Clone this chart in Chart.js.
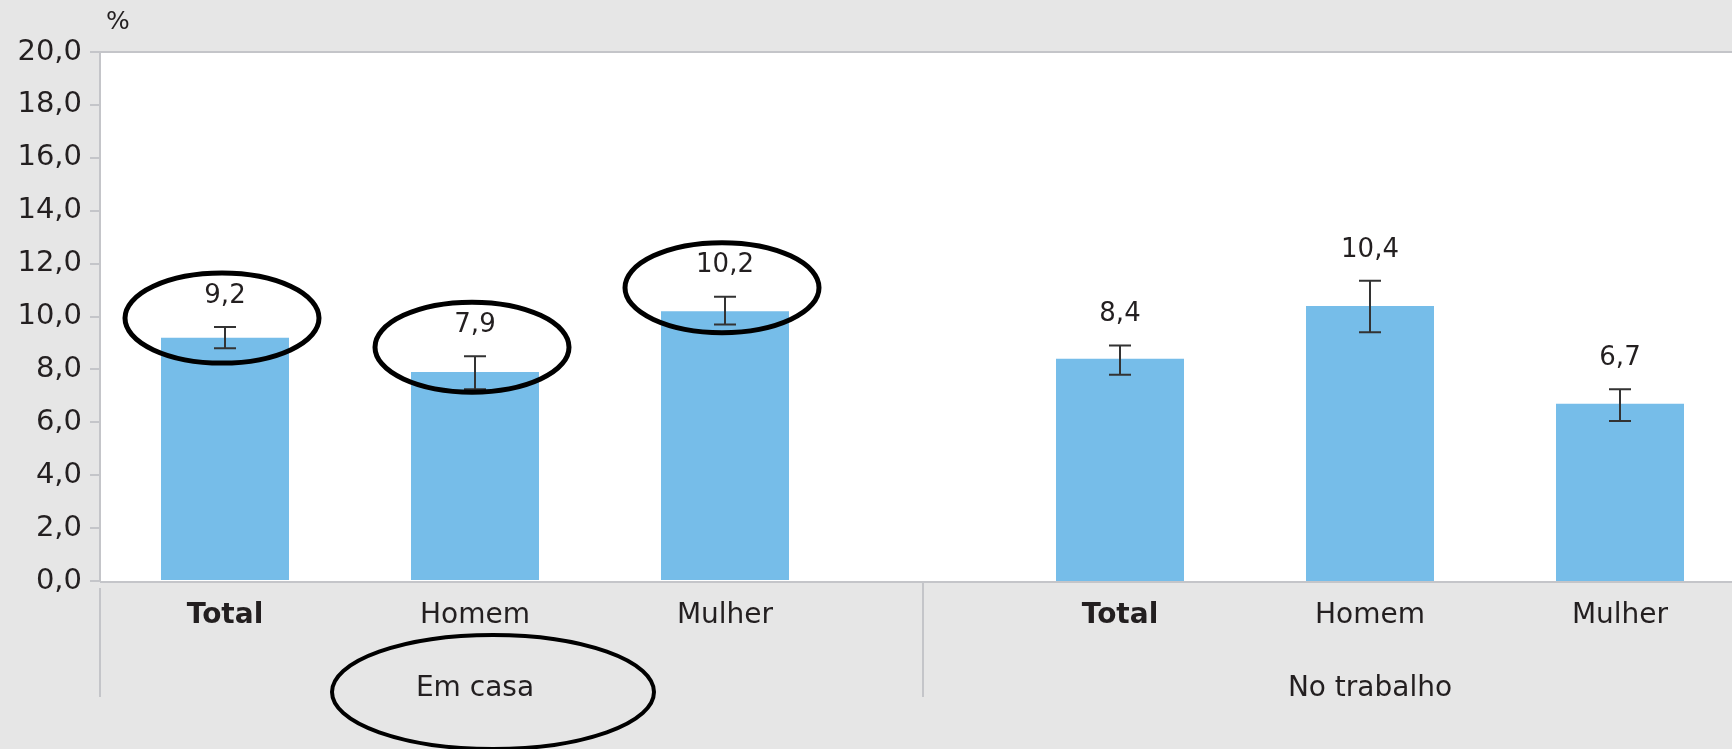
<!DOCTYPE html>
<html><head><meta charset="utf-8">
<script src="https://cdn.jsdelivr.net/npm/chart.js@4.4.1/dist/chart.umd.min.js"></script>
<style>
html,body{margin:0;padding:0;width:1732px;height:749px;overflow:hidden;background:#e6e6e6;}
#wrapL{position:absolute;left:0;top:0;width:922px;height:749px;}
#wrapR{position:absolute;left:922px;top:0;width:823px;height:749px;}
#pct{position:absolute;left:106px;top:6px;font:25px 'DejaVu Sans',sans-serif;color:#231f20;}
</style></head>
<body>
<div id="wrapL"><canvas id="cL"></canvas></div>
<div id="wrapR"><canvas id="cR"></canvas></div>
<div id="pct">%</div>
<script>
// ---- data ----
const groups = ['Em casa', 'No trabalho'];
const categories = ['Total', 'Homem', 'Mulher'];
const emCasa = [9.2, 7.9, 10.2];
const emCasaLow = [8.8, 7.25, 9.7];
const emCasaHigh = [9.6, 8.5, 10.75];
const noTrabalho = [8.4, 10.4, 6.7];
const noTrabalhoLow = [7.8, 9.4, 6.05];
const noTrabalhoHigh = [8.9, 11.35, 7.25];
const yMin = 0, yMax = 20, yStep = 2;
// hand-drawn highlight circles in the reference
const circledEmCasa = [true, true, true];
const circledNoTrabalho = [false, false, false];
const circledGroups = [true, false];

// ---- style ----
const FONT = "'DejaVu Sans', sans-serif";
const INK = '#231f20';
const AXIS = '#c4c5c9';
const BAR = '#76bde9';

function fmt(v) { return v.toFixed(1).replace('.', ','); }
function ring(ctx, cx, cy, rx, ry, lw) {
  ctx.save();
  ctx.strokeStyle = '#000';
  ctx.lineWidth = lw;
  ctx.beginPath();
  ctx.ellipse(cx, cy, rx, ry, 0, 0, Math.PI * 2);
  ctx.stroke();
  ctx.restore();
}

const panelPlugin = {
  id: 'panel',
  beforeDraw(chart, args, o) {
    const { ctx, chartArea: a, width } = chart;
    const x0 = o.isFirst ? a.left : 0;
    ctx.save();
    ctx.fillStyle = '#fff';
    ctx.fillRect(x0, a.top, width - x0, a.bottom - a.top);
    ctx.strokeStyle = AXIS;
    ctx.lineWidth = 2;
    ctx.beginPath();
    ctx.moveTo(x0, a.top); ctx.lineTo(width, a.top);
    ctx.moveTo(x0, a.bottom + 1); ctx.lineTo(width, a.bottom + 1);
    ctx.stroke();
    ctx.beginPath();
    const sx = o.isFirst ? a.left : 1;
    ctx.moveTo(sx, a.bottom + (o.isFirst ? 7 : 1));
    ctx.lineTo(sx, a.bottom + 116);
    ctx.stroke();
    ctx.restore();
  },
  afterDatasetsDraw(chart, args, o) {
    const { ctx, chartArea: a } = chart;
    const y = chart.scales.y, x = chart.scales.x;
    const ds = chart.data.datasets[0];
    const meta = chart.getDatasetMeta(0);
    ctx.save();
    meta.data.forEach((bar, i) => {
      const hi = y.getPixelForValue(o.high[i]);
      const lo = y.getPixelForValue(o.low[i]);
      ctx.strokeStyle = '#333';
      ctx.lineWidth = 2;
      ctx.beginPath();
      ctx.moveTo(bar.x, hi); ctx.lineTo(bar.x, lo);
      ctx.moveTo(bar.x - 11, hi); ctx.lineTo(bar.x + 11, hi);
      ctx.moveTo(bar.x - 11, lo); ctx.lineTo(bar.x + 11, lo);
      ctx.stroke();
      const ly = hi - 31;
      ctx.fillStyle = INK;
      ctx.font = '26px ' + FONT;
      ctx.textAlign = 'center';
      ctx.textBaseline = 'middle';
      ctx.fillText(fmt(ds.data[i]), bar.x, ly);
      if (o.circled[i]) ring(ctx, bar.x - 3, ly + 22, 97, 45, 5);
    });
    const gx = x.getPixelForValue(1);
    const gy = a.bottom + 108;
    ctx.fillStyle = INK;
    ctx.font = '28px ' + FONT;
    ctx.textAlign = 'center';
    ctx.textBaseline = 'middle';
    ctx.fillText(o.group, gx, gy);
    if (o.groupCircled) ring(ctx, gx + 18, gy + 3, 161, 57, 4);
    ctx.restore();
  }
};

function makePanel(id, groupIdx, values, low, high, circled, isFirst) {
  return new Chart(document.getElementById(id), {
    type: 'bar',
    data: {
      labels: categories,
      datasets: [{ data: values, backgroundColor: BAR, borderWidth: 0,
                   barPercentage: 0.512, categoryPercentage: 1 }]
    },
    options: {
      responsive: true,
      maintainAspectRatio: false,
      animation: false,
      layout: { padding: isFirst ? { top: 52, right: 72, left: 0, bottom: 0 }
                                 : { top: 52, right: 0, left: 73, bottom: 0 } },
      plugins: {
        legend: { display: false },
        tooltip: { enabled: false },
        panel: { isFirst, high, low, circled, group: groups[groupIdx], groupCircled: circledGroups[groupIdx] }
      },
      scales: {
        x: {
          grid: { display: false },
          border: { display: false },
          ticks: {
            color: INK,
            padding: 10,
            font: (c) => ({ family: "'DejaVu Sans', sans-serif", size: 28,
                            weight: categories[c.index] === 'Total' ? 'bold' : 'normal' })
          },
          afterFit: (s) => { s.height = 168; }
        },
        y: {
          display: isFirst,
          min: yMin, max: yMax,
          ticks: { stepSize: yStep, color: INK, padding: 8,
                   font: { family: "'DejaVu Sans', sans-serif", size: 29 },
                   callback: (v) => fmt(v) },
          grid: { drawOnChartArea: false, drawTicks: true, tickLength: 10, color: AXIS, lineWidth: 2 },
          border: { display: true, color: AXIS, width: 2 },
          afterFit: (s) => { s.width = isFirst ? 100 : 0; }
        }
      }
    },
    plugins: [panelPlugin]
  });
}

makePanel('cL', 0, emCasa, emCasaLow, emCasaHigh, circledEmCasa, true);
makePanel('cR', 1, noTrabalho, noTrabalhoLow, noTrabalhoHigh, circledNoTrabalho, false);
</script>
</body></html>
